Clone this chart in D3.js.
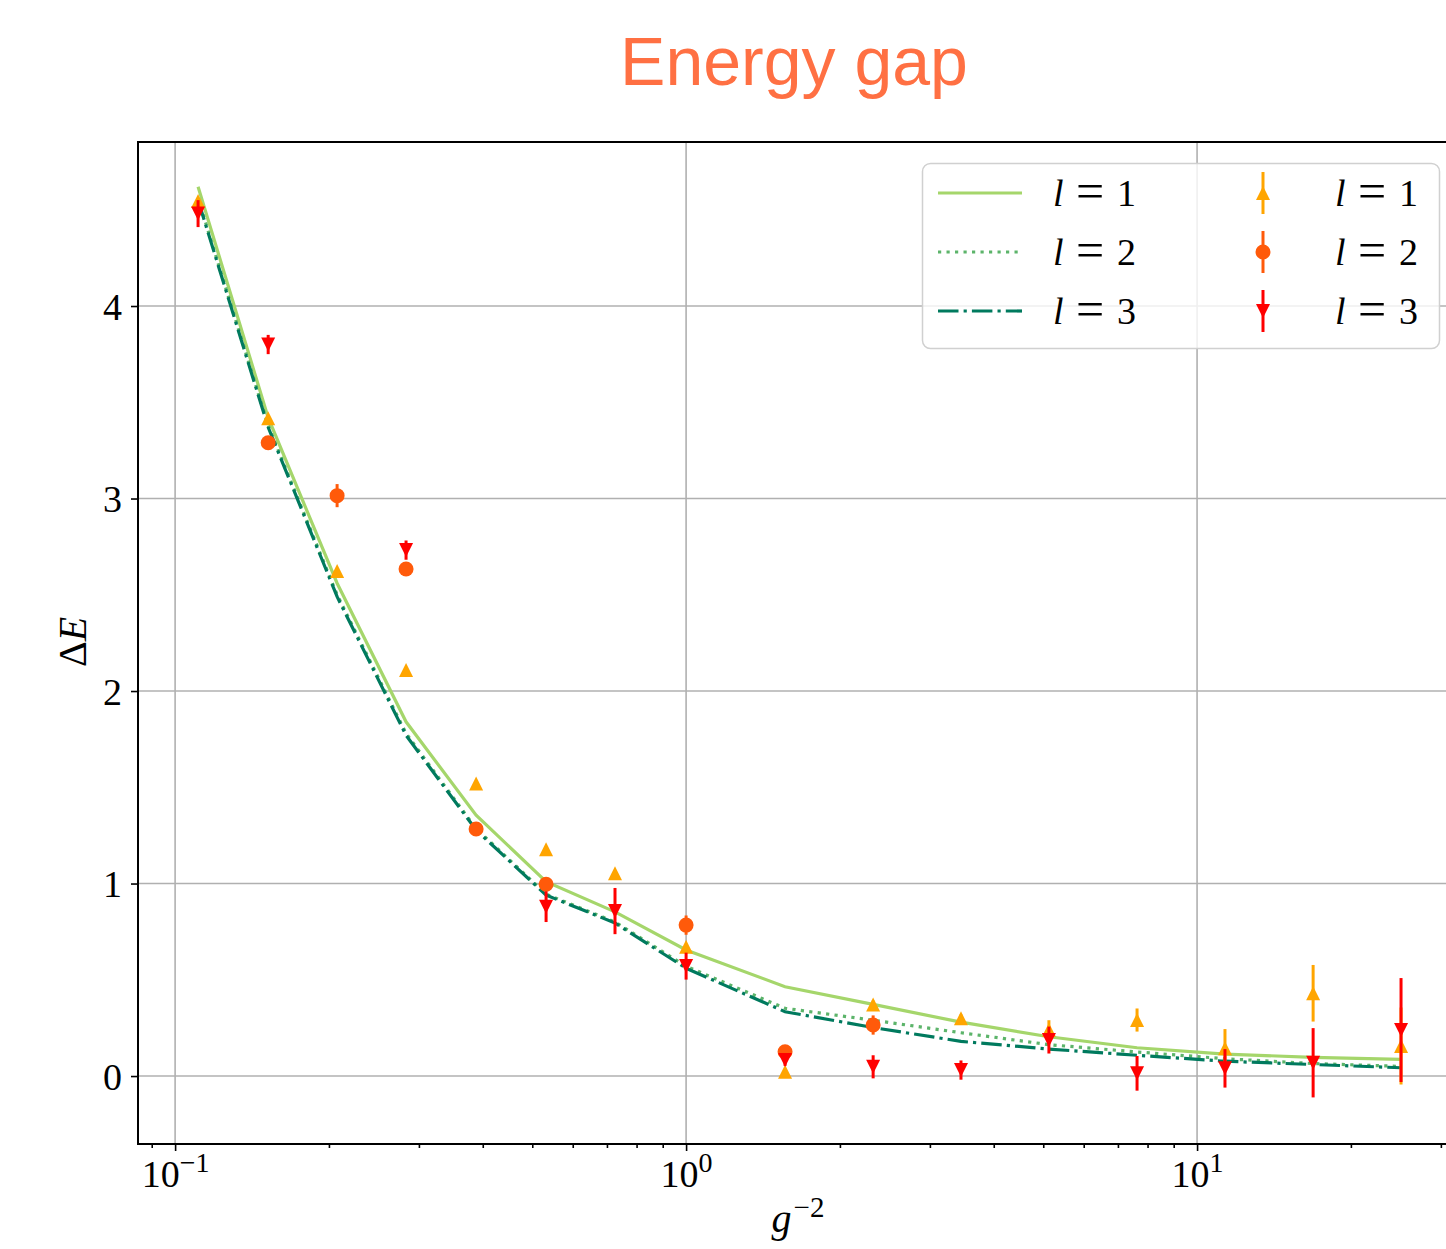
<!DOCTYPE html>
<html><head><meta charset="utf-8">
<script src="https://cdn.jsdelivr.net/npm/d3@7"></script>
<style>body{margin:0;background:#fff;} svg{display:block;}</style>
</head><body>
<svg id="chart" width="1446" height="1249"></svg>
<script>
// ---- data ----
const gInv2 = [0.1109, 0.1521, 0.2075, 0.2831, 0.3882, 0.5321, 0.7259, 1.0, 1.562, 2.323, 3.451, 5.129, 7.63, 11.34, 16.87, 25.07];
const theoryL1 = [4.62, 3.42, 2.56, 1.84, 1.355, 1.01, 0.853, 0.655, 0.464, 0.372, 0.28, 0.204, 0.147, 0.114, 0.097, 0.087];
const theoryL2 = [4.56, 3.38, 2.50, 1.78, 1.285, 0.945, 0.80, 0.57, 0.352, 0.29, 0.225, 0.163, 0.125, 0.09, 0.065, 0.05];
const theoryL3 = [4.55, 3.37, 2.49, 1.77, 1.278, 0.94, 0.795, 0.56, 0.334, 0.252, 0.18, 0.14, 0.108, 0.077, 0.06, 0.043];
const measL1 = [4.545, 3.417, 2.623, 2.109, 1.52, 1.178, 1.053, 0.672, 0.022, 0.372, 0.30, 0.24, 0.291, 0.144, 0.43, 0.156];
const errL1  = [0.01, 0.01, 0.01, 0.01, 0.01, 0.01, 0.01, 0.01, 0.01, 0.02, 0.02, 0.05, 0.06, 0.10, 0.147, 0.20];
const measL2 = [null, 3.29, 3.015, 2.634, 1.283, 0.996, null, 0.784, 0.126, 0.265, null, null, null, null, null, null];
const errL2  = [0, 0.02, 0.06, 0.02, 0.02, 0.02, 0, 0.05, 0.03, 0.05, 0, 0, 0, 0, 0, 0];
const measL3 = [4.48, 3.80, null, 2.732, null, 0.88, 0.857, 0.571, 0.083, 0.048, 0.031, 0.187, 0.014, 0.04, 0.069, 0.239];
const errL3  = [0.07, 0.05, 0, 0.05, 0, 0.08, 0.12, 0.07, 0.03, 0.06, 0.05, 0.07, 0.09, 0.10, 0.18, 0.27];
const yTicks = [0, 1, 2, 3, 4];
const xMajorTicks = [0.1, 1, 10];
const xTickExponents = ["\u22121", "0", "1"];
const xMinorTicks = [0.09, 0.2, 0.3, 0.4, 0.5, 0.6, 0.7, 0.8, 0.9, 2, 3, 4, 5, 6, 7, 8, 9, 20, 30];
const legendNumbers = ["1", "2", "3"];
const titleText = "Energy gap";

// ---- setup ----
const svg = d3.select("#chart");
const L = 138, R = 1460, T = 142, B = 1144;
const x = d3.scaleLog().domain([0.0846, 32.7]).range([L, R]);
const y = d3.scaleLinear().domain([-0.353, 4.852]).range([B, T]);
const serif = "'Liberation Serif', 'DejaVu Serif', serif";

svg.append("defs").append("clipPath").attr("id", "clip")
  .append("rect").attr("x", L).attr("y", T).attr("width", R - L).attr("height", B - T);

// title
svg.append("text").attr("x", 794).attr("y", 85).attr("text-anchor", "middle")
  .attr("font-family", "'Liberation Sans', Arial, sans-serif").attr("font-size", 68)
  .attr("fill", "#ff7043").text(titleText);

// grid
const grid = svg.append("g").attr("stroke", "#b0b0b0").attr("stroke-width", 1.6);
grid.selectAll(".gy").data(yTicks).join("line")
  .attr("x1", L).attr("x2", R).attr("y1", d => y(d)).attr("y2", d => y(d));
grid.selectAll(".gx").data(xMajorTicks).join("line")
  .attr("y1", T).attr("y2", B).attr("x1", d => x(d)).attr("x2", d => x(d));

// axes
const xAxis = svg.append("g").attr("transform", `translate(0,${B})`)
  .call(d3.axisBottom(x).tickValues(xMajorTicks).tickSize(7).tickFormat(""));
const xMinor = svg.append("g").attr("transform", `translate(0,${B})`)
  .call(d3.axisBottom(x).tickValues(xMinorTicks).tickSize(4).tickFormat(""));
const yAxis = svg.append("g").attr("transform", `translate(${L},0)`)
  .call(d3.axisLeft(y).tickValues(yTicks).tickSize(7).tickFormat(""));
[xAxis, xMinor, yAxis].forEach(a => {
  a.select(".domain").remove();
  a.selectAll(".tick line").attr("stroke", "#000").attr("stroke-width", 1.6);
});
xAxis.selectAll(".tick").each(function(d, i) {
  const t = d3.select(this).append("text").attr("y", 43).attr("fill", "#000")
    .attr("font-family", serif).attr("font-size", 38).attr("text-anchor", "middle");
  t.append("tspan").text("10");
  t.append("tspan").attr("font-size", 28).attr("dy", -15).text(xTickExponents[i]);
});
yAxis.selectAll(".tick").append("text").attr("x", -16).attr("dy", 13).attr("fill", "#000")
  .attr("font-family", serif).attr("font-size", 38).attr("text-anchor", "end").text(d => d);

// axis labels
const xl = svg.append("text").attr("x", 798).attr("y", 1232).attr("text-anchor", "middle")
  .attr("font-family", serif).attr("font-size", 40).attr("fill", "#000");
xl.append("tspan").attr("font-style", "italic").text("g");
xl.append("tspan").attr("font-size", 29).attr("dy", -15).attr("dx", 2).text("\u22122");
const yl = svg.append("text").attr("transform", "translate(86,642) rotate(-90)").attr("text-anchor", "middle")
  .attr("font-family", serif).attr("font-size", 40).attr("fill", "#000");
yl.append("tspan").text("\u0394");
yl.append("tspan").attr("font-style", "italic").text("E");

// model lines
const plot = svg.append("g").attr("clip-path", "url(#clip)");
const lineStyles = [
  {vals: theoryL1, color: "#a5d66b", dash: null},
  {vals: theoryL2, color: "#5cb46a", dash: "3.2,5.3"},
  {vals: theoryL3, color: "#007a5e", dash: "20.5,5.1,3.2,5.1"}
];
const lineGen = d3.line().x(d => x(d[0])).y(d => y(d[1]));
lineStyles.forEach(s => {
  plot.append("path").datum(gInv2.map((g, i) => [g, s.vals[i]]))
    .attr("d", lineGen).attr("fill", "none").attr("stroke", s.color)
    .attr("stroke-width", 3.2).attr("stroke-dasharray", s.dash);
});

// markers
function markerPath(type, cx, cy, s) {
  const h = s / 2;
  if (type === "up") return `M${cx},${cy - h}L${cx - h},${cy + h}L${cx + h},${cy + h}Z`;
  if (type === "down") return `M${cx},${cy + h}L${cx - h},${cy - h}L${cx + h},${cy - h}Z`;
  const p = d3.path(); p.arc(cx, cy, h, 0, 2 * Math.PI); return p.toString();
}
const pointSeries = [
  {vals: measL1, err: errL1, color: "#ffa500", type: "up", size: 14},
  {vals: measL2, err: errL2, color: "#ff5a0a", type: "circle", size: 15},
  {vals: measL3, err: errL3, color: "#ff0000", type: "down", size: 14}
];
pointSeries.forEach(s => {
  const pts = gInv2.map((g, i) => ({g, v: s.vals[i], e: s.err[i]})).filter(d => d.v !== null);
  const g = plot.append("g");
  g.selectAll("line").data(pts).join("line")
    .attr("x1", d => x(d.g)).attr("x2", d => x(d.g))
    .attr("y1", d => y(d.v - d.e)).attr("y2", d => y(d.v + d.e))
    .attr("stroke", s.color).attr("stroke-width", 3);
  g.selectAll("path").data(pts).join("path")
    .attr("d", d => markerPath(s.type, x(d.g), y(d.v), s.size)).attr("fill", s.color);
});

// spines
svg.append("rect").attr("x", L).attr("y", T).attr("width", R - L).attr("height", B - T)
  .attr("fill", "none").attr("stroke", "#000").attr("stroke-width", 2);

// legend
const lg = svg.append("g");
lg.append("rect").attr("x", 922.5).attr("y", 163.5).attr("width", 517).attr("height", 185).attr("rx", 8)
  .attr("fill", "#fff").attr("fill-opacity", 0.8).attr("stroke", "#d0d0d0").attr("stroke-width", 1.5);
const rowY = [193, 252, 311];
function legendLabel(xl, yy, num) {
  const t = lg.append("g").attr("font-family", serif).attr("font-size", 38).attr("fill", "#000");
  t.append("text").attr("x", xl).attr("y", yy + 13).attr("font-style", "italic").text("l");
  t.append("text").attr("x", xl + 37).attr("y", yy + 15).attr("font-size", 50).attr("text-anchor", "middle").text("=");
  t.append("text").attr("x", xl + 64).attr("y", yy + 13).text(num);
}
lineStyles.forEach((s, i) => {
  lg.append("line").attr("x1", 938).attr("x2", 1022).attr("y1", rowY[i]).attr("y2", rowY[i])
    .attr("stroke", s.color).attr("stroke-width", 3.2).attr("stroke-dasharray", s.dash);
  legendLabel(1053, rowY[i], legendNumbers[i]);
});
pointSeries.forEach((s, i) => {
  lg.append("line").attr("x1", 1263).attr("x2", 1263).attr("y1", rowY[i] - 21).attr("y2", rowY[i] + 21)
    .attr("stroke", s.color).attr("stroke-width", 3);
  lg.append("path").attr("d", markerPath(s.type, 1263, rowY[i], s.size)).attr("fill", s.color);
  legendLabel(1335, rowY[i], legendNumbers[i]);
});
</script>
</body></html>
